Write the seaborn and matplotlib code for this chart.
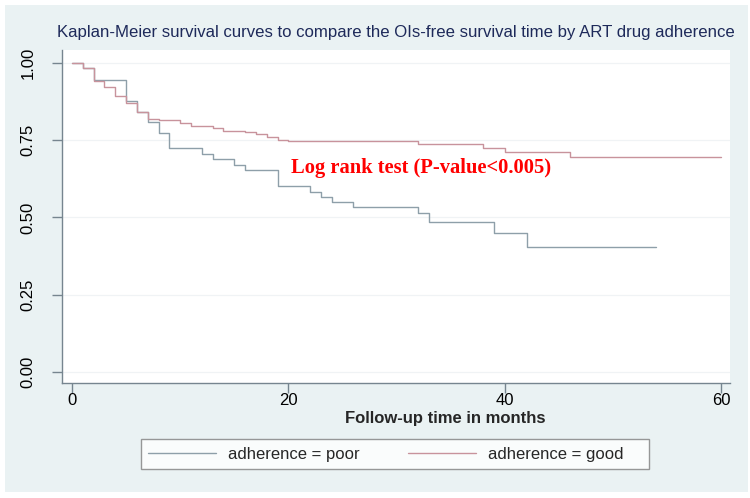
import seaborn as sns
import pandas as pd
import numpy as np
import matplotlib
matplotlib.use('Agg')
import matplotlib.pyplot as plt
from matplotlib.patches import Rectangle

# Kaplan-Meier step values
poor_time = [0, 1, 2, 5, 6, 7, 8, 9, 12, 13, 15, 16, 19, 22, 23, 24, 26, 32, 33, 39, 42, 54]
poor_surv = [1.0, 0.983, 0.945, 0.878, 0.842, 0.81, 0.772, 0.724, 0.706, 0.688, 0.670, 0.652,
             0.602, 0.583, 0.567, 0.549, 0.533, 0.513, 0.484, 0.449, 0.404, 0.404]

good_time = [0, 1, 2, 3, 4, 5, 6, 7, 8, 10, 11, 13, 14, 16, 17, 18, 19, 20, 32, 38, 40, 46, 60]
good_surv = [1.0, 0.983, 0.943, 0.923, 0.893, 0.870, 0.842, 0.818, 0.814, 0.805, 0.796, 0.789,
             0.780, 0.776, 0.769, 0.759, 0.751, 0.747, 0.738, 0.724, 0.711, 0.695, 0.695]

groups = ['adherence = poor', 'adherence = good']
x_ticks = [0, 20, 40, 60]
y_ticks = [0.0, 0.25, 0.5, 0.75, 1.0]
y_tick_labels = ['0.00', '0.25', '0.50', '0.75', '1.00']

df = pd.concat([
    pd.DataFrame({'time': poor_time, 'surv': poor_surv, 'group': groups[0]}),
    pd.DataFrame({'time': good_time, 'surv': good_surv, 'group': groups[1]}),
])

sns.set_theme(style='white')
plt.rcParams['font.family'] = ['Liberation Sans', 'DejaVu Sans']

W, H = 750, 498
fig = plt.figure(figsize=(W / 100, H / 100), dpi=100, facecolor='white')
fig.patches.append(Rectangle((5 / W, 1 - 492 / H), 743 / W, 487 / H, transform=fig.transFigure,
                             facecolor='#EAF2F3', edgecolor='none', zorder=-10))

ax = fig.add_axes([62 / W, 1 - 383 / H, (730 - 62) / W, (383 - 50) / H])
ax.set_facecolor('white')

palette = {groups[0]: '#8E9FA9', groups[1]: '#C8939C'}
sns.lineplot(data=df, x='time', y='surv', hue='group', palette=palette, drawstyle='steps-post',
             estimator=None, legend=False, linewidth=1.0, ax=ax)

ax.set_xlim(-0.92, 60.8)
ax.set_ylim(-0.036, 1.042)
ax.set_xticks(x_ticks)
ax.set_yticks(y_ticks)
ax.set_yticklabels(y_tick_labels, rotation=90, va='center')
ax.grid(axis='y', color='#F0F3F5', linewidth=0.9)
ax.grid(axis='x', visible=False)
for side in ['top', 'right']:
    ax.spines[side].set_visible(False)
for side in ['left', 'bottom']:
    ax.spines[side].set_color('#76858F')
    ax.spines[side].set_linewidth(1.0)
ax.tick_params(axis='both', which='major', length=7, width=1.0, color='#76858F',
               labelsize=12, labelcolor='black', bottom=True, left=True)
ax.tick_params(axis='y', pad=12)
ax.tick_params(axis='x', pad=0)

ax.set_xlabel('')
ax.set_ylabel('')
fig.text(445 / W, 1 - 418 / H, 'Follow-up time in months', ha='center', va='center',
         fontsize=12, fontweight='bold')
fig.text(396 / W, 1 - 33 / H, 'Kaplan-Meier survival curves to compare the OIs-free survival time by ART drug adherence',
         ha='center', va='center', fontsize=12.1, color='#1E2A5A')

ax.text(20.2, 0.66, 'Log rank test (P-value<0.005)', ha='left', va='center', color='#FF0000',
        fontsize=14.8, fontweight='bold', family=['Liberation Serif', 'DejaVu Serif'])

handles = ax.get_lines()[:2]
leg = fig.legend(handles, [groups[0], groups[1] + '    '], loc='center',
                 bbox_to_anchor=(395 / W, 1 - 454 / H), ncol=2,
                 fontsize=12, frameon=True, fancybox=False, handlelength=4.1, handletextpad=0.7,
                 columnspacing=2.9, borderpad=0.45)
leg.get_frame().set_edgecolor('#7F7F7F')
leg.get_frame().set_linewidth(1.0)
leg.get_frame().set_facecolor('white')

fig.savefig('out.png', dpi=100, facecolor=fig.get_facecolor())
